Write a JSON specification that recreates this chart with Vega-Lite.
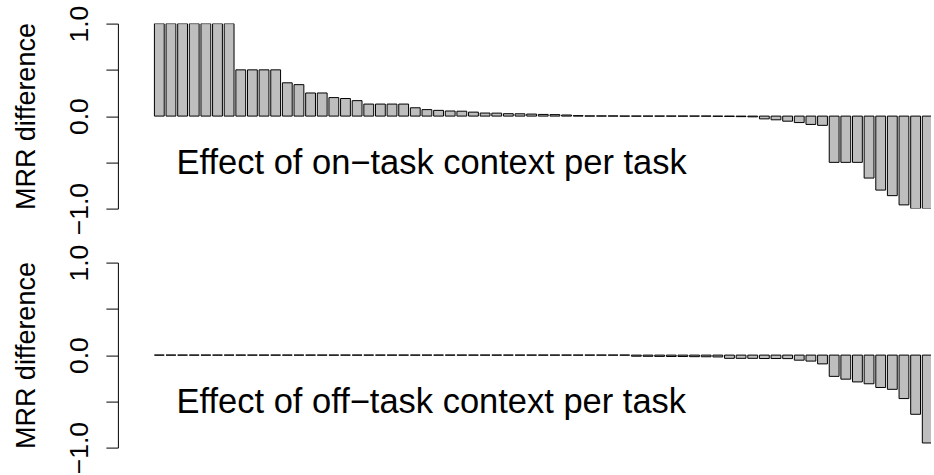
{
  "$schema": "https://vega.github.io/schema/vega-lite/v6.json",
  "padding": {"left": 11.9, "top": 4.6, "right": 0, "bottom": 0},
  "background": "white",
  "bounds": "flush",
  "spacing": 54,
  "config": {
    "view": {"stroke": null},
    "font": "Liberation Sans",
    "axisY": {
      "values": [-1, -0.5, 0, 0.5, 1],
      "labelExpr": "datum.value == 0.5 || datum.value == -0.5 ? '' : format(datum.value, '.1f')",
      "grid": false,
      "domainColor": "#000",
      "domainWidth": 1,
      "tickColor": "#000",
      "tickWidth": 1,
      "tickSize": 12,
      "labelAngle": -90,
      "labelAlign": "center",
      "labelBaseline": "alphabetic",
      "labelPadding": 18.7,
      "labelFontSize": 26.5,
      "labelColor": "#000",
      "labelFont": "Liberation Sans",
      "labelOverlap": false,
      "labelFlush": false,
      "labelBound": false,
      "titleFontSize": 27,
      "titleFontWeight": "normal",
      "titleFont": "Liberation Sans",
      "titleColor": "#000",
      "titleAngle": -90,
      "titleX": -83.7,
      "titleY": 92.5,
      "titleAlign": "center",
      "titleBaseline": "alphabetic"
    }
  },
  "datasets": {
    "on": [
      {"i": 1, "v": 1}, {"i": 2, "v": 1}, {"i": 3, "v": 1}, {"i": 4, "v": 1}, {"i": 5, "v": 1}, {"i": 6, "v": 1}, {"i": 7, "v": 1},
      {"i": 8, "v": 0.5}, {"i": 9, "v": 0.5}, {"i": 10, "v": 0.5}, {"i": 11, "v": 0.5},
      {"i": 12, "v": 0.36}, {"i": 13, "v": 0.34}, {"i": 14, "v": 0.25}, {"i": 15, "v": 0.25},
      {"i": 16, "v": 0.2}, {"i": 17, "v": 0.19}, {"i": 18, "v": 0.167},
      {"i": 19, "v": 0.13}, {"i": 20, "v": 0.13}, {"i": 21, "v": 0.13}, {"i": 22, "v": 0.13},
      {"i": 23, "v": 0.09}, {"i": 24, "v": 0.07}, {"i": 25, "v": 0.062}, {"i": 26, "v": 0.055},
      {"i": 27, "v": 0.053}, {"i": 28, "v": 0.043}, {"i": 29, "v": 0.033}, {"i": 30, "v": 0.032},
      {"i": 31, "v": 0.026}, {"i": 32, "v": 0.025}, {"i": 33, "v": 0.022}, {"i": 34, "v": 0.018},
      {"i": 35, "v": 0.016}, {"i": 36, "v": 0.012}, {"i": 37, "v": 0.005}, {"i": 38, "v": 0.002},
      {"i": 39, "v": 0.002}, {"i": 40, "v": 0.002}, {"i": 41, "v": 0}, {"i": 42, "v": 0},
      {"i": 43, "v": 0}, {"i": 44, "v": 0}, {"i": 45, "v": 0}, {"i": 46, "v": 0},
      {"i": 47, "v": 0}, {"i": 48, "v": 0}, {"i": 49, "v": -0.002}, {"i": 50, "v": -0.003},
      {"i": 51, "v": -0.006}, {"i": 52, "v": -0.008}, {"i": 53, "v": -0.03}, {"i": 54, "v": -0.04},
      {"i": 55, "v": -0.055}, {"i": 56, "v": -0.07}, {"i": 57, "v": -0.09}, {"i": 58, "v": -0.1},
      {"i": 59, "v": -0.5}, {"i": 60, "v": -0.5}, {"i": 61, "v": -0.5}, {"i": 62, "v": -0.67},
      {"i": 63, "v": -0.8}, {"i": 64, "v": -0.86}, {"i": 65, "v": -0.96}, {"i": 66, "v": -1},
      {"i": 67, "v": -1}, {"i": 68, "v": -1}
    ],
    "off": [
      {"i": 1, "v": 0}, {"i": 2, "v": 0}, {"i": 3, "v": 0}, {"i": 4, "v": 0}, {"i": 5, "v": 0}, {"i": 6, "v": 0}, {"i": 7, "v": 0},
      {"i": 8, "v": 0}, {"i": 9, "v": 0}, {"i": 10, "v": 0}, {"i": 11, "v": 0}, {"i": 12, "v": 0}, {"i": 13, "v": 0},
      {"i": 14, "v": 0}, {"i": 15, "v": 0}, {"i": 16, "v": 0}, {"i": 17, "v": 0}, {"i": 18, "v": 0}, {"i": 19, "v": 0},
      {"i": 20, "v": 0}, {"i": 21, "v": 0}, {"i": 22, "v": 0}, {"i": 23, "v": 0}, {"i": 24, "v": 0}, {"i": 25, "v": 0},
      {"i": 26, "v": 0}, {"i": 27, "v": 0}, {"i": 28, "v": 0}, {"i": 29, "v": 0}, {"i": 30, "v": 0}, {"i": 31, "v": 0},
      {"i": 32, "v": 0}, {"i": 33, "v": 0}, {"i": 34, "v": 0}, {"i": 35, "v": 0}, {"i": 36, "v": 0}, {"i": 37, "v": 0},
      {"i": 38, "v": 0}, {"i": 39, "v": 0}, {"i": 40, "v": 0}, {"i": 41, "v": 0},
      {"i": 42, "v": -0.012}, {"i": 43, "v": -0.013}, {"i": 44, "v": -0.014}, {"i": 45, "v": -0.015},
      {"i": 46, "v": -0.015}, {"i": 47, "v": -0.017}, {"i": 48, "v": -0.018}, {"i": 49, "v": -0.02},
      {"i": 50, "v": -0.035}, {"i": 51, "v": -0.035}, {"i": 52, "v": -0.035}, {"i": 53, "v": -0.037},
      {"i": 54, "v": -0.037}, {"i": 55, "v": -0.038}, {"i": 56, "v": -0.055}, {"i": 57, "v": -0.065},
      {"i": 58, "v": -0.095}, {"i": 59, "v": -0.23}, {"i": 60, "v": -0.26}, {"i": 61, "v": -0.29},
      {"i": 62, "v": -0.31}, {"i": 63, "v": -0.35}, {"i": 64, "v": -0.37}, {"i": 65, "v": -0.47},
      {"i": 66, "v": -0.64}, {"i": 67, "v": -0.95}, {"i": 68, "v": -1}
    ]
  },
  "vconcat": [
    {
      "width": 813.3,
      "height": 185,
      "layer": [
        {
          "data": {"name": "on"},
          "mark": {"type": "bar", "width": 9.82, "fill": "#bebebe", "stroke": "#000", "strokeWidth": 1, "clip": true},
          "encoding": {
            "x": {"field": "i", "type": "quantitative", "scale": {"domain": [-2.13, 66.91], "nice": false, "zero": false}, "axis": null},
            "y": {"field": "v", "type": "quantitative", "scale": {"domain": [-1, 1], "nice": false}, "axis": {"title": "MRR difference"}}
          }
        },
        {
          "data": {"values": [{}]},
          "mark": {"type": "text", "text": "Effect of on−task context per task", "align": "left", "baseline": "alphabetic", "fontSize": 34.5, "font": "Liberation Sans", "color": "#000"},
          "encoding": {"x": {"datum": 2.48}, "y": {"datum": -0.623}}
        }
      ]
    },
    {
      "width": 813.3,
      "height": 185,
      "layer": [
        {
          "data": {"name": "off"},
          "mark": {"type": "bar", "width": 9.82, "fill": "#bebebe", "stroke": "#000", "strokeWidth": 1, "clip": true},
          "encoding": {
            "x": {"field": "i", "type": "quantitative", "scale": {"domain": [-2.13, 66.91], "nice": false, "zero": false}, "axis": null},
            "y": {"field": "v", "type": "quantitative", "scale": {"domain": [-1, 1], "nice": false}, "axis": {"title": "MRR difference"}}
          }
        },
        {
          "data": {"values": [{}]},
          "mark": {"type": "text", "text": "Effect of off−task context per task", "align": "left", "baseline": "alphabetic", "fontSize": 34.5, "font": "Liberation Sans", "color": "#000"},
          "encoding": {"x": {"datum": 2.48}, "y": {"datum": -0.625}}
        }
      ]
    }
  ]
}
